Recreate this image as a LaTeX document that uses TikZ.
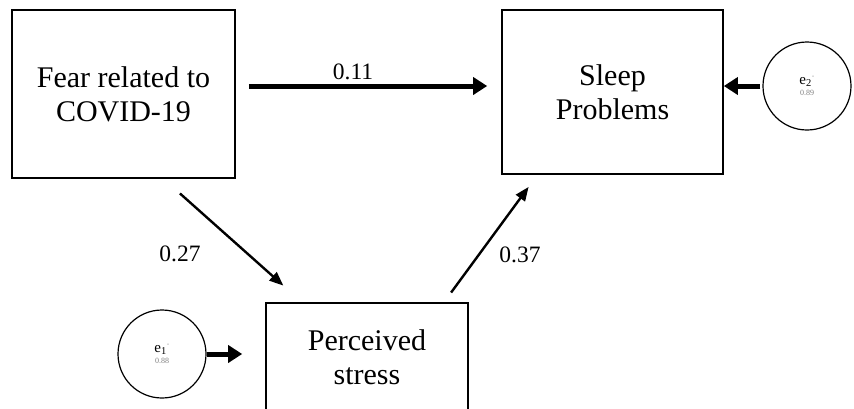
\documentclass[tikz,border=0pt]{standalone}
\usepackage{fontspec}
\setmainfont{Liberation Serif}
\usetikzlibrary{arrows.meta}

\begin{document}
\begin{tikzpicture}[x=1pt, y=-1pt,
        box/.style={draw, line width=1.6pt, inner sep=0pt, align=center,
                    font=\fontsize{30}{34}\selectfont},
        err/.style={draw, circle, line width=1.2pt, inner sep=0pt,
                    minimum size=88pt, align=center},
        coef/.style={font=\fontsize{23.5}{26}\selectfont},
        thinarr/.style={-{Triangle[length=14pt,width=11pt]}, line width=2.4pt},
        fatarr/.style={-{Triangle[length=14pt,width=17pt]}, line width=5pt}
    ]
        \useasboundingbox (0,0) rectangle (854,408);
        \node[box, minimum width=223pt, minimum height=168pt] (fear)   at (123.5, 94) {Fear related to\\COVID-19};
        \node[box, minimum width=221pt, minimum height=164pt] (sleep)  at (612.5, 92) {Sleep\\Problems};
        \node[box, minimum width=202pt, minimum height=108pt] (stress) at (367, 357) {Perceived\\stress};
        \node[err] (e1) at (162, 354) {\fontsize{15}{15}\selectfont e\textsubscript{1}\textsuperscript{\color{gray}\tiny''}\\[-1pt]
                                       \color{gray}\fontsize{8}{8}\selectfont 0.88};
        \node[err] (e2) at (807, 86)  {\fontsize{15}{15}\selectfont e\textsubscript{2}\textsuperscript{\color{gray}\tiny''}\\[-1pt]
                                       \color{gray}\fontsize{8}{8}\selectfont 0.89};
        \draw[fatarr, shorten <=13pt, shorten >=14pt] ([yshift=8pt]fear.east) -- ([yshift=6pt]sleep.west);
        \draw[fatarr, shorten <=2pt] (e2.west) -- ([yshift=6pt]sleep.east);
        \draw[fatarr, shorten >=23pt] (e1.east) -- ([yshift=3pt]stress.west);
        \draw[thinarr, shorten <=22pt, shorten >=25pt] ([xshift=40pt]fear.south) -- ([xshift=-65pt]stress.north);
        \draw[thinarr, shorten <=12pt, shorten >=15pt] ([xshift=77pt]stress.north) -- ([xshift=-75pt]sleep.south);
        \node[coef] (c11) at (353, 72)  {0.11};
        \node[coef] (c27) at (180, 254) {0.27};
        \node[coef] (c37) at (520, 255) {0.37};
    \end{tikzpicture}
\end{document}
